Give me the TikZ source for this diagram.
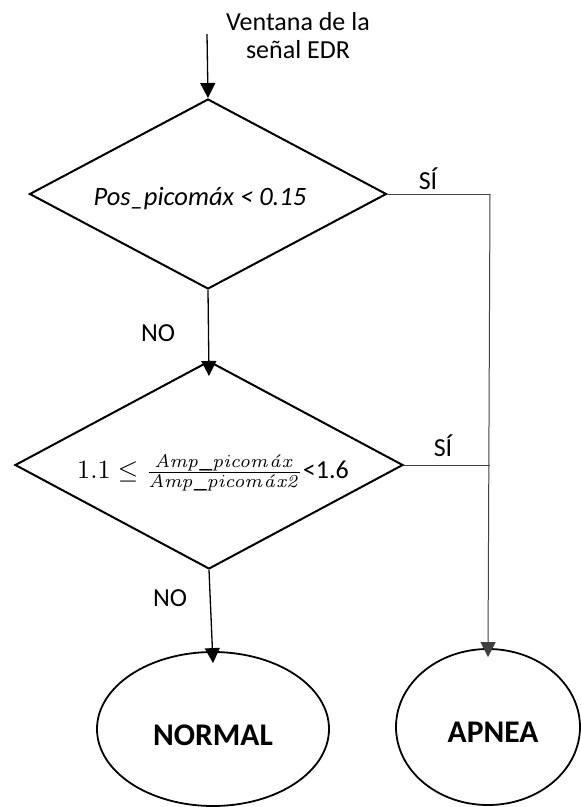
\documentclass[tikz,border=0pt]{standalone}
\usepackage{graphicx}
\usepackage[no-math]{fontspec}
\setmainfont{Carlito}
\usetikzlibrary{shapes.geometric,arrows.meta}

\tikzset{
  decision/.style={diamond, draw, line width=2pt, inner sep=0pt, shape aspect=1.8},
  outcome/.style={ellipse, draw, line width=1.8pt, inner sep=0pt},
  flow/.style={line width=1.3pt, -{Triangle[length=15pt,width=15pt]}},
  branch/.style={line width=1pt, draw=black!75},
  lbl/.style={font=\fontsize{26}{31}\selectfont, inner sep=0pt},
}
\newcommand{\ratioexpr}{%
  \scalebox{2.62}{\fontsize{10}{12}\selectfont
    $1.1 \leq \frac{\mathit{Amp\_picom\acute{a}x}}{\mathit{Amp\_picom\acute{a}x2}}$}}

\begin{document}
\begin{tikzpicture}[x=1pt,y=-1pt]
\useasboundingbox (0,0) rectangle (581,807);

% decision shapes
\node[decision, minimum width=357pt, minimum height=190pt] (d1) at (208,194) {};
\node[decision, minimum width=388pt, minimum height=208pt] (d2) at (209,465) {};

% outcomes
\node[outcome, minimum width=232pt, minimum height=154pt] (normal) at (213,729) {};
\node[outcome, minimum width=184pt, minimum height=156pt] (apnea) at (488,727) {};

% texts
\node[lbl, align=center, font=\fontsize{26}{28}\selectfont] (src) at (298,36) {Ventana de la\\señal EDR};
\node[lbl, font=\fontsize{26.5}{31}\selectfont\itshape] (t1) at (200,199) {Pos\_picomáx < 0.15};
\node[lbl] (t2) at (213,473) {\ratioexpr<1.6};
\node[lbl, font=\fontsize{31.5}{36}\selectfont\bfseries] (tn) at (213,735) {NORMAL};
\node[lbl, font=\fontsize{31.5}{36}\selectfont\bfseries] (ta) at (493,732) {APNEA};

\node[lbl] (si1) at (428,179) {SÍ};
\node[lbl] (si2) at (443,446) {SÍ};
\node[lbl] (no1) at (158,333) {NO};
\node[lbl] (no2) at (170,598) {NO};

% connectors
\coordinate (in) at (207,34);
\coordinate (j1) at (490,194);
\coordinate (j2) at (490,465);

\draw[flow] (in) -- (d1.north);
\draw[flow] (d1.south) -- ([yshift=-16pt]d2.north);
\draw[flow] (d2.south) -- ([yshift=-12pt]normal.north);
\draw[branch] (d1.east) -- (j1);
\draw[flow, line width=1pt, draw=black!75] (j1) -- ([yshift=-9pt]apnea.north);
\draw[branch] (d2.east) -- (j2);
\end{tikzpicture}
\end{document}
